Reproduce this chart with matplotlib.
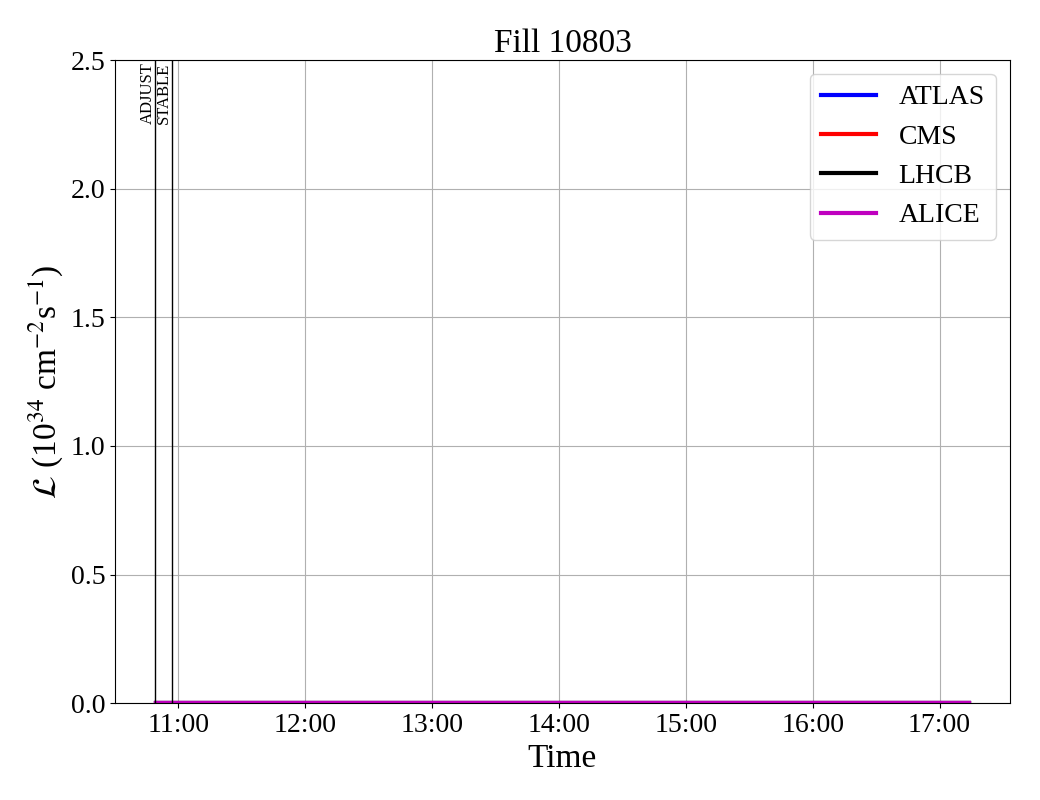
import matplotlib
matplotlib.use("Agg")
import matplotlib.pyplot as plt
import matplotlib.dates as mdates
import pandas as pd

plt.rcParams["font.family"] = ["Liberation Serif", "DejaVu Serif"]
plt.rcParams["mathtext.fontset"] = "stix"

fill = 10803
day = "2025-06-20"
times = pd.to_datetime([day + " 10:49:20", day + " 17:14:00"])
lumi = {
    "ATLAS": [0.0, 0.0],
    "CMS": [0.0, 0.0],
    "LHCB": [0.0, 0.0],
    "ALICE": [0.0, 0.0],
}
colors = {"ATLAS": "b", "CMS": "r", "LHCB": "k", "ALICE": "m"}
modes = ["ADJUST", "STABLE"]
mode_times = pd.to_datetime([day + " 10:49:10", day + " 10:57:10"])

fig = plt.figure(figsize=(10.4, 8), dpi=100)
ax = fig.add_axes([0.1106, 0.121, 0.8604, 0.804])

for name, vals in lumi.items():
    ax.plot(times, vals, color=colors[name], linewidth=3, label=name)

for mode, t in zip(modes, mode_times):
    ax.axvline(t, color="k", linewidth=1)
    ax.text(t, 2.49, mode, rotation=90, ha="right", va="top", fontsize=12)

ax.set_ylim(0, 2.5)
ax.xaxis.set_major_locator(mdates.HourLocator())
ax.xaxis.set_major_formatter(mdates.DateFormatter("%H:%M"))
ax.tick_params(labelsize=20)
ax.grid(True)
ax.set_title("Fill %d" % fill, fontsize=24)
ax.set_xlabel("Time", fontsize=24)
ax.set_ylabel(r"$\mathcal{L}$ (10$^{34}$ cm$^{-2}$s$^{-1}$)", fontsize=24)
ax.legend(loc="upper right", fontsize=20)

fig.savefig("out.png", dpi=100)
